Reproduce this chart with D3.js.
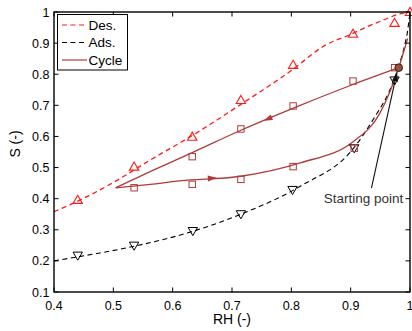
<!DOCTYPE html>
<html><head><meta charset="utf-8">
<script src="https://cdn.jsdelivr.net/npm/d3@7"></script>
<style>body{margin:0;background:#fff}svg{display:block}text{font-family:"Liberation Sans",Arial,sans-serif}</style>
</head><body><svg id="c" width="412" height="331"></svg>
<script>
// ---- data ----
const xTicks = [0.4,0.5,0.6,0.7,0.8,0.9,1];
const yTicks = [0.1,0.2,0.3,0.4,0.5,0.6,0.7,0.8,0.9,1];
const xTickLabels = ["0.4","0.5","0.6","0.7","0.8","0.9","1"];
const yTickLabels = ["0.1","0.2","0.3","0.4","0.5","0.6","0.7","0.8","0.9","1"];
const desCurve = [[0.4,0.358],[0.44,0.392],[0.5,0.452],[0.562,0.524],[0.633,0.603],[0.715,0.703],[0.8,0.812],[0.856,0.892],[0.9,0.928],[0.927,0.952],[0.955,0.974],[0.983,0.994],[1.0,1.0]];
const desPoints = [[0.44,0.396],[0.535,0.503],[0.633,0.599],[0.715,0.717],[0.803,0.830],[0.904,0.930],[0.974,0.965],[1.0,1.0]];
const adsCurve = [[0.4,0.2],[0.44,0.213],[0.535,0.247],[0.634,0.295],[0.715,0.35],[0.815,0.44],[0.904,0.56],[0.941,0.664],[0.965,0.745],[0.98,0.82],[0.99,0.885],[0.996,0.94],[1.0,1.0]];
const adsPoints = [[0.44,0.217],[0.535,0.249],[0.634,0.296],[0.715,0.350],[0.802,0.428],[0.906,0.562],[0.974,0.780]];
const cycleUpper = [[0.504,0.435],[0.562,0.487],[0.633,0.548],[0.715,0.620],[0.815,0.700],[0.904,0.767],[0.981,0.821]];
const cycleLower = [[0.504,0.435],[0.562,0.446],[0.612,0.457],[0.715,0.472],[0.815,0.515],[0.904,0.583],[0.949,0.674],[0.981,0.821],[0.996,0.915]];
const cyclePoints = [[0.974,0.821],[0.904,0.778],[0.803,0.698],[0.715,0.624],[0.633,0.535],[0.535,0.435],[0.633,0.446],[0.715,0.462],[0.803,0.503],[0.906,0.562]];
const startPoint = [0.981,0.821];
const arrowUpper = [0.761,0.657];
const arrowLower = [0.666,0.466];
const legendLabels = ["Des.","Ads.","Cycle"];
const annoText = "Starting point";
const annoTail = [0.935,0.434];
const annoTip = [0.978,0.806];

// ---- layout ----
const svg = d3.select("#c");
const x = d3.scaleLinear().domain([0.4,1]).range([54,410]);
const y = d3.scaleLinear().domain([0.1,1]).range([292,12]);
const red = "#ff1a1a", brown = "#b03a3a", black = "#000";
svg.append("defs").append("clipPath").attr("id","pc").append("rect")
  .attr("x",54).attr("y",12).attr("width",356).attr("height",280);

const line = d3.line().x(d=>x(d[0])).y(d=>y(d[1])).curve(d3.curveMonotoneX);
const g = svg.append("g").attr("clip-path","url(#pc)");

g.append("path").attr("d",line(desCurve)).attr("fill","none").attr("stroke",red).attr("stroke-width",1.3).attr("stroke-dasharray","5,3.5");
g.append("path").attr("d",line(adsCurve)).attr("fill","none").attr("stroke",black).attr("stroke-width",1.1).attr("stroke-dasharray","5,3.5");
g.append("path").attr("d",line(cycleUpper)).attr("fill","none").attr("stroke",brown).attr("stroke-width",1.3);
g.append("path").attr("d",line(cycleLower)).attr("fill","none").attr("stroke",brown).attr("stroke-width",1.3);

const triUp = d3.symbol().type(d3.symbolTriangle).size(38);
svg.selectAll(".dp").data(desPoints).enter().append("path")
  .attr("d",triUp).attr("transform",d=>`translate(${x(d[0])},${y(d[1])+0.8})`)
  .attr("fill","none").attr("stroke",red).attr("stroke-width",1.1);
svg.selectAll(".ap").data(adsPoints).enter().append("path")
  .attr("d",triUp).attr("transform",d=>`translate(${x(d[0])},${y(d[1])-0.8}) rotate(180)`)
  .attr("fill","none").attr("stroke",black).attr("stroke-width",1);
svg.selectAll(".cp").data(cyclePoints).enter().append("rect")
  .attr("x",d=>x(d[0])-3.2).attr("y",d=>y(d[1])-3.2).attr("width",6.4).attr("height",6.4)
  .attr("fill","none").attr("stroke",brown).attr("stroke-width",1);

// direction arrows on cycle
function arrowAt(p, ang){
  const cx = x(p[0]), cy = y(p[1]);
  const pts = [[5,0],[-4,-3],[-4,3]].map(([a,b])=>[cx + a*Math.cos(ang) - b*Math.sin(ang), cy + a*Math.sin(ang) + b*Math.cos(ang)]);
  svg.append("path").attr("d","M"+pts.join("L")+"Z").attr("fill",brown);
}
arrowAt(arrowUpper, Math.PI + Math.atan2(y(0.700)-y(0.620), x(0.815)-x(0.715)));
arrowAt(arrowLower, Math.atan2(y(0.472)-y(0.457), x(0.715)-x(0.612)));

// annotation arrow
const tx=x(annoTail[0]), ty=y(annoTail[1]), hx=x(annoTip[0]), hy=y(annoTip[1]);
const an = Math.atan2(hy-ty, hx-tx);
svg.append("line").attr("x1",tx).attr("y1",ty).attr("x2",hx-7*Math.cos(an)).attr("y2",hy-7*Math.sin(an)).attr("stroke","#111").attr("stroke-width",1.1);
{
  const pts=[[0,0],[-9,-3.2],[-9,3.2]].map(([a,b])=>[hx + a*Math.cos(an) - b*Math.sin(an), hy + a*Math.sin(an) + b*Math.cos(an)]);
  svg.append("path").attr("d","M"+pts.join("L")+"Z").attr("fill","#111");
}
svg.append("circle").attr("cx",x(startPoint[0])).attr("cy",y(startPoint[1])).attr("r",3.8)
  .attr("fill","#a0503a").attr("stroke","#2a1a1a").attr("stroke-width",1);
svg.append("text").attr("x",x(0.93)-5).attr("y",y(0.40)+4.5).attr("text-anchor","middle")
  .attr("font-size",13.5).attr("fill","#333").text(annoText);

// axes box
svg.append("rect").attr("x",54).attr("y",12).attr("width",356).attr("height",280)
  .attr("fill","none").attr("stroke","#000").attr("stroke-width",1.4);
const tl = 4.5;
xTicks.forEach((t,i)=>{
  svg.append("line").attr("x1",x(t)).attr("x2",x(t)).attr("y1",292).attr("y2",292-tl).attr("stroke","#000");
  svg.append("line").attr("x1",x(t)).attr("x2",x(t)).attr("y1",12).attr("y2",12+tl).attr("stroke","#000");
  svg.append("text").attr("x",x(t)).attr("y",309.5).attr("text-anchor","middle").attr("font-size",12.5).text(xTickLabels[i]);
});
yTicks.forEach((t,i)=>{
  svg.append("line").attr("x1",54).attr("x2",54+tl).attr("y1",y(t)).attr("y2",y(t)).attr("stroke","#000");
  svg.append("line").attr("x1",410).attr("x2",410-tl).attr("y1",y(t)).attr("y2",y(t)).attr("stroke","#000");
  svg.append("text").attr("x",49.5).attr("y",y(t)+4.5).attr("text-anchor","end").attr("font-size",12.5).text(yTickLabels[i]);
});
svg.append("text").attr("x",232).attr("y",324).attr("text-anchor","middle").attr("font-size",14).text("RH (-)");
svg.append("text").attr("transform","translate(20,144) rotate(-90)").attr("text-anchor","middle").attr("font-size",14).text("S (-)");

// legend
const lg = svg.append("g");
lg.append("rect").attr("x",57.5).attr("y",14.5).attr("width",70).attr("height",55.5).attr("fill","#fff").attr("stroke","#000").attr("stroke-width",1);
const lstyles = [{c:red,d:"5,3.5"},{c:black,d:"5,3.5"},{c:brown,d:null}];
legendLabels.forEach((l,i)=>{
  const yy = 25 + i*17.5;
  const ln = lg.append("line").attr("x1",62).attr("x2",87).attr("y1",yy).attr("y2",yy).attr("stroke",lstyles[i].c).attr("stroke-width",1.2);
  if(lstyles[i].d) ln.attr("stroke-dasharray",lstyles[i].d);
  lg.append("text").attr("x",88.5).attr("y",yy+4.7).attr("font-size",13.5).text(l);
});
</script></body></html>
